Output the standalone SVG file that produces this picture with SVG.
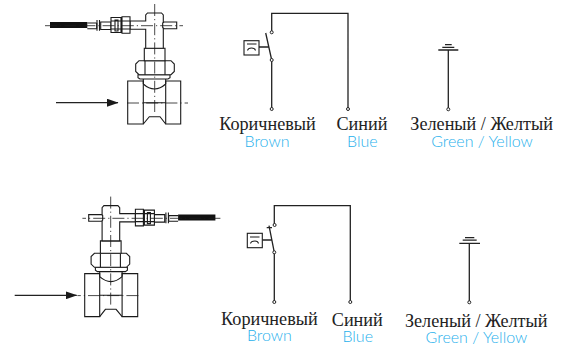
<svg xmlns="http://www.w3.org/2000/svg" width="563" height="349" viewBox="0 0 563 349">
<style>
.l{fill:none;stroke:#1a1a1a;stroke-width:1.1}
.t{fill:#fff;stroke:#1a1a1a;stroke-width:1.1}
.c{fill:none;stroke:#1a1a1a;stroke-width:.8;stroke-dasharray:12 3 1.2 3}
.w{fill:none;stroke:#222;stroke-width:1.3}
.term{fill:#fff;stroke:#222;stroke-width:1}
.ru{font-family:"Liberation Serif",serif;font-size:18.2px;fill:#222;text-anchor:middle}
.en{font-family:"Lato","Open Sans",sans-serif;font-weight:300;font-size:16px;fill:#1fb0ec;text-anchor:middle}
</style>
<defs>
<marker id="arr" markerWidth="12" markerHeight="8" refX="11" refY="4" orient="auto" markerUnits="userSpaceOnUse"><path d="M0 0L11.5 4L0 8Z" fill="#1a1a1a"/></marker>
<g id="valve">
<path class="t" d="M127.7 81H143.3V124H127.7ZM165.7 81H180.7V124H165.7Z"/>
<path class="l" d="M143.3 124L149.3 116.7H160L165.7 124M143.3 84Q154.5 94 165.7 84M143.3 102.7H165.7M143.3 78V84M165.7 78V84"/>
<path class="t" d="M138 74.7H170V77.7L168 79H140L138 77.7Z"/>
<path class="t" d="M139 60.7H171L174.3 64V71.5L171 74.7H139L135.7 71.5V64Z"/>
<path class="l" d="M145 60.7V74.7M165 60.7V74.7"/>
<path class="t" d="M144.3 48.3H165V60.7H144.3Z"/>
<path class="t" d="M145.7 48.3V29.3H130V21H145.7V15L147.5 13H161.5L163.3 15V48.3Z"/>
<path class="t" d="M176.7 28.7H164L162.7 27.5V23L164 22H176.7Z"/>
<path d="M50 22H87.3V28H50Z" fill="#111"/>
<path class="l" stroke-width=".8" d="M87.3 23H96.7M87.3 28.7H96.7M96.7 23V28.7"/>
<path class="l" d="M97 20V30.7M99.5 20V30.7"/>
<path class="t" d="M100.7 22H111V29.5H100.7Z"/>
<path class="t" d="M111 17.5H121V32.5H111ZM122 16.7H130V33.3H122Z"/>
<path class="l" d="M111 21H121M111 29H121M115 20H118V31H115ZM122 21H130M122 29H130M121 20H122M121 30H122"/>
<path class="c" d="M45 25.7H183M154.7 4V112M127 103H188"/>
</g>
</defs>
<g id="valve-top"><use href="#valve"/><path class="w" d="M56 102.7H118" marker-end="url(#arr)"/></g>
<g id="valve-bottom"><use href="#valve" transform="translate(265.4 192.6) scale(-1 1)"/><path class="w" d="M14.7 295.3H76.7" marker-end="url(#arr)"/></g>
<g id="connectors">
<path class="w" d="M271.7 32.3V13.3H348V109M265.7 33L271.7 60M271.7 60V109M259 47H269"/>
<path class="w" d="M274.3 225V205.7H350.3V302M269 225.7L274.3 252.3M274.3 252.3V302M266.7 227.7H272M262.3 240H272"/>
<path class="w" d="M448.3 50V109.3M469.3 243.3V302.3"/>
</g>
<g id="switch-top">
<rect class="t" x="244" y="40.7" width="15" height="14.3" stroke-width="1.3"/>
<path class="l" d="M247 44H256.5M247.5 50.5Q248 48 251.5 48Q255 48 255.5 50.5"/>
<circle class="term" cx="271.7" cy="32.3" r="1.5"/><circle class="term" cx="271.7" cy="60" r="1.5"/><circle class="term" cx="271.7" cy="109" r="1.5"/><circle class="term" cx="348" cy="109" r="1.5"/>
</g>
<g id="switch-bottom">
<rect class="t" x="247.3" y="233.3" width="15" height="14.4" stroke-width="1.3"/>
<path class="l" d="M250 237H259.5M250.5 243.5Q251 241 255 241Q258 241 258.5 243.5"/>
<circle class="term" cx="274.6" cy="225" r="1.5"/><circle class="term" cx="274.3" cy="252.3" r="1.5"/><circle class="term" cx="274.3" cy="302" r="1.5"/><circle class="term" cx="350.3" cy="302" r="1.5"/>
</g>
<g id="ground-top">
<path class="w" d="M438.3 50H458.3M442.3 47.3H454.3M445 44.7H451.7"/>
<circle class="term" cx="448.3" cy="109.3" r="1.5"/>
</g>
<g id="ground-bottom">
<path class="w" d="M459.3 243.3H480M462.7 240.2H476.7M465 237.7H474.3"/>
<circle class="term" cx="469.3" cy="302.3" r="1.5"/>
</g>
<g id="labels">
<text class="ru" x="267.5" y="130">Коричневый</text><text class="en" x="267" y="146.7">Brown</text>
<text class="ru" x="362" y="130">Синий</text><text class="en" x="362.3" y="146.7">Blue</text>
<text class="ru" x="481.6" y="130">Зеленый / Желтый</text><text class="en" x="482" y="146.7">Green / Yellow</text>
<text class="ru" x="269.4" y="324.5">Коричневый</text><text class="en" x="269.4" y="340.7">Brown</text>
<text class="ru" x="357.3" y="326">Синий</text><text class="en" x="357.7" y="342">Blue</text>
<text class="ru" x="476.2" y="327.3">Зеленый / Желтый</text><text class="en" x="476.4" y="343.3">Green / Yellow</text>
</g>
</svg>
